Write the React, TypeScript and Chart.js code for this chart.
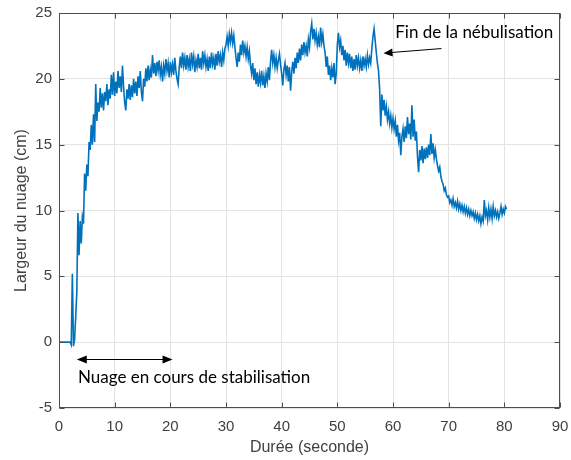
import React, { useEffect, useRef } from "react";
import { Chart, registerables } from "chart.js";

Chart.register(...registerables);

// Sampling interval of the recorded series (seconds)
const SAMPLE_STEP = 0.2;

// Cloud width (cm), one value every SAMPLE_STEP seconds starting at t = 0
const cloudWidth: number[] = [
  0, 0, 0, 0, 0,
  0, 0, 0, 0, 0,
  0, -0.2, 5.2, -0.3, 0.2,
  1.9, 3.8, 9.8, 6.6, 9.2,
  7.5, 9.5, 9.0, 12.8, 11.5,
  13.5, 12.6, 15.2, 14.6, 16.5,
  15.0, 17.3, 15.2, 19.6, 16.8,
  18.2, 17.5, 19.3, 17.8, 18.9,
  17.6, 19.0, 18.3, 19.6, 18.0,
  19.2, 18.5, 20.3, 18.8, 20.5,
  18.7, 19.8, 18.9, 20.6, 19.3,
  20.2, 19.0, 21.0, 19.4, 18.2,
  17.6, 19.2, 18.5, 19.6, 18.4,
  19.5, 18.6, 20.0, 18.9, 19.8,
  18.7, 20.2, 19.3, 20.6, 19.0,
  18.3, 20.0, 19.4, 20.8, 19.8,
  21.0, 19.9, 20.7, 20.1, 21.8,
  20.4, 21.2, 20.2, 21.3, 20.6,
  21.4, 20.3, 20.9, 19.8, 21.0,
  20.4, 21.5, 20.6, 21.2, 20.1,
  21.3, 20.5, 21.1, 20.3, 21.6,
  20.6, 20.0, 19.6, 20.9, 21.7,
  20.8, 22.0, 21.0, 21.6, 20.7,
  21.8, 20.9, 21.5, 20.6, 22.0,
  21.1, 21.7, 20.5, 21.4, 20.9,
  21.9, 20.8, 21.6, 20.7, 22.1,
  21.2, 21.8, 20.9, 21.5, 20.6,
  21.7, 20.8, 22.0, 21.1, 21.6,
  20.7, 21.9, 21.0, 22.1, 21.3,
  21.8, 20.9, 22.0, 21.4, 22.3,
  22.6, 23.2, 22.5, 23.4, 22.8,
  23.5, 22.7, 23.3, 22.4, 21.6,
  20.9, 22.0, 21.3, 22.6, 21.8,
  22.9, 22.0, 22.5, 21.7, 22.4,
  21.5, 22.1, 21.0, 20.4, 21.2,
  19.9, 20.8, 19.6, 20.5, 19.4,
  20.3, 19.7, 20.6, 19.5, 20.2,
  19.3, 20.4, 19.8, 20.9, 19.9,
  21.3, 22.2, 21.2, 21.8, 20.9,
  21.6, 20.8, 21.4, 21.9, 21.1,
  20.4, 19.5, 20.7, 21.2, 20.3,
  21.0, 19.8, 20.9, 19.1, 20.5,
  21.3, 20.4, 21.6, 20.8, 22.0,
  21.2, 22.3, 21.4, 22.6, 21.8,
  22.8, 22.0, 22.5, 21.7, 23.0,
  22.4, 23.6, 24.2, 23.0, 23.8,
  22.9, 23.5, 22.6, 23.2, 22.4,
  23.9, 22.8, 23.4, 22.5, 22.0,
  20.9, 21.7, 20.3, 21.0, 19.9,
  20.8, 20.1, 21.2, 19.6, 20.4,
  22.6, 23.5, 22.4, 22.9, 21.8,
  22.5, 21.4, 22.2, 21.0, 22.0,
  21.2, 21.9, 20.8, 21.7, 20.6,
  21.5, 20.7, 21.8, 21.0, 21.6,
  20.8, 21.4, 20.6, 21.7, 21.0,
  21.5, 20.9, 21.8, 21.1, 21.6,
  21.2, 22.3, 23.2, 23.8, 22.9,
  22.0, 21.2, 20.6, 19.2, 16.4,
  18.8, 17.6, 18.4, 17.2, 17.9,
  16.9, 17.5, 16.6, 17.2, 16.3,
  17.0, 16.2, 16.8, 15.6, 16.5,
  15.3, 15.9, 14.2, 15.6, 16.2,
  15.2, 16.4, 15.5, 17.1, 15.8,
  16.6, 15.4, 18.0, 15.6, 16.9,
  15.3, 16.0, 14.1, 12.9, 14.6,
  13.8, 14.9, 13.6, 14.7, 13.9,
  14.8, 14.0, 15.0, 14.2, 15.8,
  14.3, 15.1, 14.0, 14.6, 13.9,
  13.4, 13.0, 13.3, 12.6, 12.2,
  12.0, 11.5, 11.7, 11.2, 11.0,
  11.1, 10.6, 10.8, 10.4, 10.9,
  10.3, 10.6, 10.2, 10.7, 10.1,
  10.5, 10.0, 10.4, 9.9, 10.3,
  9.8, 10.2, 9.7, 10.1, 9.6,
  10.0, 9.6, 9.9, 9.4, 9.8,
  9.3, 9.7, 9.2, 9.6, 9.0,
  9.5, 9.2, 10.8, 9.6, 10.0,
  9.3, 10.2, 9.5, 10.1, 9.4,
  10.3, 9.6, 10.0, 9.5, 9.9,
  9.4, 9.8, 10.3, 9.7, 10.1,
  9.8, 10.3, 10.1,
];

const xTicks: number[] = [0, 10, 20, 30, 40, 50, 60, 70, 80, 90];
const yTicks: number[] = [-5, 0, 5, 10, 15, 20, 25];

const X_TITLE = "Durée (seconde)";
const Y_TITLE = "Largeur du nuage (cm)";

// Annotations (in data units)
const endLabel = "Fin de la nébulisation";
const endLabelPos = { x: 60.4, y: 23.55 };
const endArrow = { fromX: 68.7, fromY: 22.3, toX: 58.3, toY: 21.95 };

const stabLabel = "Nuage en cours de stabilisation";
const stabLabelPos = { x: 3.4, y: -2.65 };
const stabArrow = { fromX: 3.2, toX: 20.4, y: -1.3 };

const AXIS_COLOR = "#4d4d4d";
const TEXT_COLOR = "#404040";
const LINE_COLOR = "#0072BD";
const TICK_FONT = "'Liberation Sans', Arial, sans-serif";
const NOTE_FONT = "Lato, 'Open Sans', sans-serif";

function arrowHead(ctx: CanvasRenderingContext2D, x1: number, y1: number, x2: number, y2: number, len: number, half: number) {
  const ang = Math.atan2(y2 - y1, x2 - x1);
  const bx = x2 - len * Math.cos(ang);
  const by = y2 - len * Math.sin(ang);
  ctx.beginPath();
  ctx.moveTo(x2, y2);
  ctx.lineTo(bx + half * Math.sin(ang), by - half * Math.cos(ang));
  ctx.lineTo(bx - half * Math.sin(ang), by + half * Math.cos(ang));
  ctx.closePath();
  ctx.fill();
}

const overlayPlugin = {
  id: "matlabOverlay",
  afterDatasetsDraw(chart: any) {
    const { ctx, chartArea: a, scales } = chart;
    const xs = scales.x;
    const ys = scales.y;
    ctx.save();
    // Box
    ctx.strokeStyle = AXIS_COLOR;
    ctx.lineWidth = 1;
    const L = Math.round(a.left) + 0.5;
    const R = Math.round(a.right) - 0.5;
    const T = Math.round(a.top) + 0.5;
    const B = Math.round(a.bottom) - 0.5;
    ctx.strokeRect(L, T, R - L, B - T);
    // Inside ticks
    const tl = 5;
    ctx.beginPath();
    xTicks.forEach((v) => {
      const px = Math.round(xs.getPixelForValue(v)) + 0.5;
      ctx.moveTo(px, B);
      ctx.lineTo(px, B - tl);
      ctx.moveTo(px, T);
      ctx.lineTo(px, T + tl);
    });
    yTicks.forEach((v) => {
      const py = Math.round(ys.getPixelForValue(v)) + 0.5;
      ctx.moveTo(L, py);
      ctx.lineTo(L + tl, py);
      ctx.moveTo(R, py);
      ctx.lineTo(R - tl, py);
    });
    ctx.stroke();

    // Annotations
    ctx.strokeStyle = "#000";
    ctx.fillStyle = "#000";
    ctx.lineWidth = 1;
    // end-of-nebulisation arrow
    const ex1 = xs.getPixelForValue(endArrow.fromX);
    const ey1 = ys.getPixelForValue(endArrow.fromY);
    const ex2 = xs.getPixelForValue(endArrow.toX);
    const ey2 = ys.getPixelForValue(endArrow.toY);
    ctx.beginPath();
    ctx.moveTo(ex1, ey1);
    ctx.lineTo(ex2 + 6, ey2 - 0.5);
    ctx.stroke();
    arrowHead(ctx, ex1, ey1, ex2, ey2, 9, 4);

    // double arrow
    const sx1 = xs.getPixelForValue(stabArrow.fromX);
    const sx2 = xs.getPixelForValue(stabArrow.toX);
    const sy = Math.round(ys.getPixelForValue(stabArrow.y)) + 0.5;
    ctx.beginPath();
    ctx.moveTo(sx1 + 6, sy);
    ctx.lineTo(sx2 - 6, sy);
    ctx.stroke();
    arrowHead(ctx, sx2, sy, sx1, sy, 10, 4);
    arrowHead(ctx, sx1, sy, sx2, sy, 10, 4);

    ctx.font = `17px ${NOTE_FONT}`;
    ctx.textBaseline = "middle";
    ctx.textAlign = "left";
    ctx.fillText(endLabel, xs.getPixelForValue(endLabelPos.x), ys.getPixelForValue(endLabelPos.y));
    ctx.fillText(stabLabel, xs.getPixelForValue(stabLabelPos.x), ys.getPixelForValue(stabLabelPos.y));
    ctx.restore();
  },
};

export default function App() {
  const canvasRef = useRef<HTMLCanvasElement | null>(null);

  useEffect(() => {
    document.body.style.margin = "0";
    const canvas = canvasRef.current;
    if (!canvas) return;
    const points = cloudWidth.map((v, i) => ({ x: Math.round(i * SAMPLE_STEP * 100) / 100, y: v }));
    const chart = new Chart(canvas, {
      type: "line",
      data: {
        datasets: [
          {
            data: points,
            borderColor: LINE_COLOR,
            borderWidth: 1.6,
            pointRadius: 0,
            tension: 0,
            fill: false,
          },
        ],
      },
      options: {
        animation: false,
        responsive: false,
        devicePixelRatio: 1,
        layout: { padding: { top: 13, right: 11, left: 0, bottom: 0 } },
        plugins: {
          legend: { display: false },
          tooltip: { enabled: false },
        },
        scales: {
          x: {
            type: "linear",
            min: 0,
            max: 90,
            afterBuildTicks: (s: any) => {
              s.ticks = xTicks.map((v) => ({ value: v }));
            },
            afterFit: (s: any) => {
              s.height = 52;
              s.paddingLeft = 0;
              s.paddingRight = 0;
            },
            grid: { color: "#e3e3e3", lineWidth: 1, drawTicks: false },
            border: { display: false },
            ticks: {
              padding: 10,
              color: TEXT_COLOR,
              font: { family: TICK_FONT, size: 15 },
              maxRotation: 0,
            },
            title: {
              display: true,
              text: X_TITLE,
              color: TEXT_COLOR,
              font: { family: TICK_FONT, size: 16 },
              padding: { top: 0, bottom: 2.5 },
            },
          },
          y: {
            type: "linear",
            min: -5,
            max: 25,
            afterBuildTicks: (s: any) => {
              s.ticks = yTicks.map((v) => ({ value: v }));
            },
            afterFit: (s: any) => {
              s.width = 59;
              s.paddingTop = 0;
              s.paddingBottom = 0;
            },
            grid: { color: "#e3e3e3", lineWidth: 1, drawTicks: false },
            border: { display: false },
            ticks: {
              padding: 7,
              color: TEXT_COLOR,
              font: { family: TICK_FONT, size: 15 },
            },
            title: {
              display: true,
              text: Y_TITLE,
              color: TEXT_COLOR,
              font: { family: TICK_FONT, size: 16 },
              padding: { top: 11.5, bottom: 0 },
            },
          },
        },
      },
      plugins: [overlayPlugin],
    });
    return () => chart.destroy();
  }, []);

  return (
    <div style={{ width: 571, height: 460, background: "#fff" }}>
      <canvas ref={canvasRef} width={571} height={460} style={{ display: "block" }} />
    </div>
  );
}
